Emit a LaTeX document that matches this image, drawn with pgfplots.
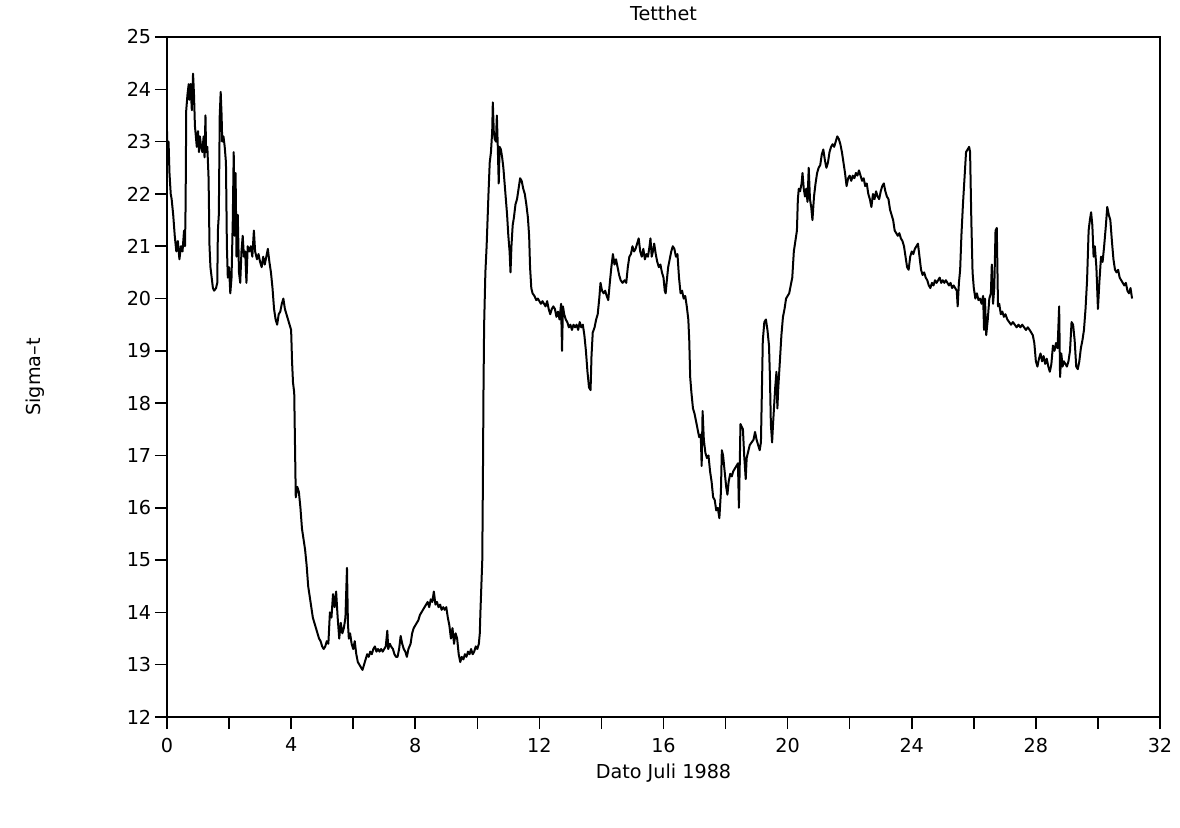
\documentclass[border=0pt]{standalone}
\usepackage{fontspec}
\setmainfont{DejaVu Sans}
\usepackage{pgfplots}
\pgfplotsset{compat=1.18}

\begin{document}
\fontsize{9.6}{11.5}\selectfont
\begin{tikzpicture}
\useasboundingbox (-83.5pt,-55pt) rectangle (506.5pt,358.5pt);
\begin{axis}[
    at={(0,0)}, anchor=south west,
    scale only axis,
    width=496.5pt, height=340pt,
    xmin=0, xmax=32,
    ymin=12, ymax=25,
    xtick={0,4,...,32},
    minor xtick={2,6,...,30},
    ytick={12,13,...,25},
    tick align=outside,
    tick pos=left,
    major tick length=6pt,
    minor tick length=6pt,
    every tick/.style={black, line width=0.8pt},
    axis line style={line width=1pt},
    /pgf/number format/assume math mode=true,
    ticklabel style={font=\fontsize{9.6}{11.5}\selectfont},
    xticklabel style={yshift=-1pt},
    yticklabel style={xshift=1.5pt},
    title={Tetthet},
    title style={at={(axis description cs:0.5,1.0174)}, anchor=center, font=\fontsize{9.6}{11.5}\selectfont},
    xlabel={Dato Juli 1988},
    xlabel style={at={(axis description cs:0.5,-0.0824)}, anchor=center, font=\fontsize{9.6}{11.5}\selectfont},
    ylabel={Sigma--t},
    ylabel style={at={(axis description cs:-0.133,0.5)}, anchor=center, font=\fontsize{9.6}{11.5}\selectfont},
]
\addplot[black, line width=1pt, line join=round] coordinates {
(0.00,23.2)(0.02,22.6)(0.05,23.0)(0.08,22.4)(0.12,22.0)(0.15,21.9)(0.20,21.6)(0.25,21.2)
(0.30,20.9)(0.35,21.1)(0.40,20.75)(0.45,21.0)(0.50,20.9)(0.55,21.3)(0.58,21.0)(0.60,21.8)
(0.62,23.6)(0.66,23.9)(0.70,24.1)(0.72,23.8)(0.76,24.1)(0.80,23.6)(0.84,24.3)(0.87,23.9)
(0.90,23.3)(0.93,23.1)(0.96,22.9)(1.00,23.2)(1.03,22.8)(1.06,23.1)(1.10,22.9)(1.14,22.8)
(1.18,23.1)(1.21,22.7)(1.24,23.5)(1.26,22.8)(1.30,22.9)(1.34,22.3)(1.37,21.0)(1.40,20.6)
(1.44,20.4)(1.48,20.2)(1.52,20.15)(1.58,20.2)(1.62,20.3)(1.64,21.3)(1.67,21.6)(1.70,23.5)
(1.73,23.95)(1.76,23.5)(1.78,23.0)(1.82,23.1)(1.86,22.9)(1.90,22.6)(1.93,21.0)(1.96,20.4)
(2.00,20.6)(2.04,20.1)(2.08,20.4)(2.12,21.5)(2.15,22.8)(2.18,21.2)(2.21,22.4)(2.24,20.8)
(2.28,21.6)(2.32,20.5)(2.36,20.3)(2.40,20.9)(2.44,21.2)(2.48,20.8)(2.52,20.9)(2.56,20.3)
(2.60,21.0)(2.65,20.9)(2.70,21.0)(2.75,20.8)(2.80,21.3)(2.84,20.9)(2.90,20.75)(2.95,20.85)
(3.00,20.7)(3.05,20.6)(3.10,20.8)(3.15,20.65)(3.20,20.8)(3.25,20.95)(3.30,20.7)(3.35,20.5)
(3.40,20.2)(3.45,19.8)(3.50,19.6)(3.55,19.5)(3.60,19.7)(3.65,19.75)(3.70,19.9)(3.75,20.0)
(3.80,19.8)(3.85,19.7)(3.90,19.6)(3.95,19.5)(4.00,19.4)(4.03,18.8)(4.06,18.4)(4.10,18.2)
(4.13,17.0)(4.15,16.2)(4.20,16.4)(4.25,16.3)(4.30,16.0)(4.35,15.6)(4.40,15.4)(4.45,15.2)
(4.50,14.9)(4.55,14.5)(4.60,14.3)(4.65,14.1)(4.70,13.9)(4.75,13.8)(4.80,13.7)(4.85,13.6)
(4.90,13.5)(4.95,13.45)(5.00,13.35)(5.05,13.3)(5.10,13.35)(5.15,13.45)(5.20,13.4)(5.25,14.0)
(5.30,13.9)(5.35,14.35)(5.40,14.1)(5.45,14.4)(5.50,13.9)(5.55,13.5)(5.60,13.8)(5.65,13.6)
(5.70,13.7)(5.75,13.9)(5.80,14.85)(5.83,13.8)(5.86,13.5)(5.90,13.6)(5.95,13.4)(6.00,13.3)
(6.05,13.45)(6.10,13.2)(6.15,13.05)(6.20,13.0)(6.25,12.95)(6.30,12.9)(6.35,13.0)(6.40,13.1)
(6.45,13.2)(6.50,13.15)(6.55,13.25)(6.60,13.2)(6.65,13.3)(6.70,13.35)(6.75,13.25)(6.80,13.3)
(6.85,13.25)(6.90,13.3)(6.95,13.25)(7.00,13.3)(7.05,13.35)(7.10,13.65)(7.13,13.3)(7.18,13.4)
(7.22,13.35)(7.28,13.3)(7.33,13.2)(7.38,13.15)(7.43,13.15)(7.48,13.3)(7.53,13.55)(7.58,13.4)
(7.63,13.3)(7.68,13.25)(7.73,13.15)(7.78,13.3)(7.85,13.4)(7.90,13.6)(7.95,13.7)(8.00,13.75)
(8.05,13.8)(8.10,13.85)(8.15,13.95)(8.20,14.0)(8.25,14.05)(8.30,14.1)(8.35,14.15)(8.40,14.2)
(8.45,14.1)(8.50,14.25)(8.55,14.2)(8.60,14.4)(8.65,14.15)(8.70,14.2)(8.75,14.1)(8.80,14.15)
(8.85,14.05)(8.90,14.1)(8.95,14.05)(9.00,14.1)(9.05,13.9)(9.10,13.75)(9.15,13.5)(9.20,13.7)
(9.25,13.4)(9.30,13.6)(9.35,13.5)(9.40,13.2)(9.45,13.05)(9.50,13.15)(9.55,13.1)(9.60,13.2)
(9.65,13.15)(9.70,13.25)(9.75,13.2)(9.80,13.3)(9.85,13.2)(9.90,13.25)(9.95,13.35)(10.00,13.3)
(10.05,13.4)(10.08,13.6)(10.10,14.0)(10.13,14.5)(10.16,15.0)(10.18,16.5)(10.20,18.3)(10.22,19.5)
(10.26,20.5)(10.30,21.0)(10.33,21.5)(10.36,22.0)(10.40,22.6)(10.44,22.8)(10.48,23.2)(10.50,23.75)
(10.53,23.2)(10.56,23.05)(10.60,23.0)(10.63,23.5)(10.66,22.9)(10.69,22.2)(10.72,22.9)(10.76,22.85)
(10.80,22.7)(10.84,22.5)(10.88,22.2)(10.92,21.9)(10.96,21.6)(11.00,21.2)(11.04,20.9)(11.07,20.5)
(11.10,21.0)(11.14,21.4)(11.18,21.55)(11.23,21.8)(11.28,21.9)(11.33,22.1)(11.38,22.3)(11.43,22.25)
(11.48,22.1)(11.53,22.0)(11.58,21.8)(11.63,21.55)(11.67,21.2)(11.70,20.6)(11.74,20.2)(11.78,20.1)
(11.84,20.05)(11.90,19.97)(11.95,20.0)(12.00,19.95)(12.05,19.9)(12.10,19.95)(12.15,19.9)(12.20,19.85)
(12.25,19.95)(12.30,19.8)(12.35,19.7)(12.40,19.8)(12.45,19.85)(12.50,19.8)(12.55,19.65)(12.60,19.75)
(12.65,19.6)(12.70,19.9)(12.73,19.0)(12.76,19.85)(12.80,19.7)(12.85,19.6)(12.90,19.55)(12.95,19.45)
(13.00,19.5)(13.05,19.4)(13.10,19.5)(13.15,19.45)(13.20,19.5)(13.25,19.4)(13.30,19.55)(13.35,19.45)
(13.40,19.5)(13.45,19.3)(13.50,19.0)(13.55,18.6)(13.60,18.3)(13.65,18.25)(13.68,18.9)(13.72,19.35)
(13.78,19.45)(13.83,19.6)(13.88,19.7)(13.93,20.0)(13.97,20.3)(14.02,20.15)(14.07,20.1)(14.12,20.15)
(14.17,20.05)(14.22,19.97)(14.27,20.3)(14.32,20.6)(14.37,20.85)(14.42,20.65)(14.47,20.75)(14.52,20.6)
(14.57,20.45)(14.62,20.35)(14.68,20.3)(14.75,20.35)(14.80,20.3)(14.85,20.6)(14.90,20.8)(14.95,20.85)
(15.00,21.0)(15.05,20.9)(15.10,20.95)(15.15,21.05)(15.20,21.15)(15.25,20.9)(15.30,20.8)(15.35,20.95)
(15.40,20.75)(15.45,20.85)(15.50,20.8)(15.55,21.0)(15.58,21.15)(15.62,20.8)(15.66,20.9)(15.70,21.05)
(15.75,20.85)(15.80,20.7)(15.85,20.6)(15.90,20.65)(15.95,20.5)(16.00,20.4)(16.04,20.15)(16.07,20.1)
(16.10,20.3)(16.15,20.6)(16.20,20.75)(16.25,20.9)(16.30,21.0)(16.35,20.95)(16.40,20.8)(16.45,20.85)
(16.50,20.4)(16.55,20.1)(16.60,20.15)(16.65,20.0)(16.70,20.05)(16.75,19.85)(16.80,19.6)(16.83,19.2)
(16.86,18.5)(16.90,18.2)(16.95,17.9)(17.00,17.8)(17.05,17.65)(17.10,17.5)(17.15,17.35)(17.20,17.4)
(17.23,16.8)(17.26,17.85)(17.30,17.3)(17.35,17.05)(17.40,16.95)(17.45,17.0)(17.50,16.7)(17.55,16.5)
(17.60,16.2)(17.65,16.15)(17.70,15.95)(17.75,16.0)(17.80,15.8)(17.85,16.3)(17.88,17.1)(17.92,17.0)
(17.97,16.7)(18.02,16.4)(18.06,16.25)(18.10,16.5)(18.15,16.65)(18.20,16.6)(18.25,16.7)(18.30,16.75)
(18.35,16.8)(18.40,16.85)(18.43,16.0)(18.46,16.9)(18.48,17.6)(18.52,17.55)(18.56,17.5)(18.60,17.0)
(18.65,16.55)(18.68,16.95)(18.72,17.05)(18.78,17.2)(18.84,17.25)(18.90,17.3)(18.95,17.45)(19.00,17.3)
(19.05,17.2)(19.10,17.1)(19.14,17.25)(19.17,18.2)(19.20,19.2)(19.25,19.55)(19.30,19.6)(19.35,19.4)
(19.40,19.1)(19.43,18.5)(19.46,17.6)(19.50,17.25)(19.53,17.6)(19.57,18.0)(19.60,18.3)(19.64,18.6)
(19.67,17.9)(19.70,18.3)(19.75,18.8)(19.80,19.3)(19.85,19.65)(19.90,19.8)(19.95,20.0)(20.00,20.05)
(20.05,20.1)(20.10,20.25)(20.15,20.4)(20.20,20.9)(20.25,21.1)(20.30,21.3)(20.33,21.9)(20.36,22.1)
(20.40,22.05)(20.45,22.2)(20.48,22.4)(20.52,22.1)(20.56,21.95)(20.60,22.1)(20.64,21.85)(20.68,22.5)
(20.72,21.9)(20.76,21.75)(20.80,21.5)(20.85,21.95)(20.90,22.2)(20.95,22.4)(21.00,22.5)(21.05,22.55)
(21.10,22.75)(21.15,22.85)(21.20,22.65)(21.25,22.5)(21.30,22.6)(21.35,22.8)(21.40,22.9)(21.45,22.95)
(21.50,22.9)(21.55,23.0)(21.60,23.1)(21.65,23.05)(21.70,22.95)(21.75,22.8)(21.80,22.6)(21.85,22.4)
(21.90,22.15)(21.95,22.3)(22.00,22.35)(22.05,22.25)(22.10,22.35)(22.15,22.3)(22.20,22.4)(22.25,22.35)
(22.30,22.45)(22.35,22.35)(22.40,22.25)(22.45,22.3)(22.50,22.15)(22.55,22.2)(22.60,22.0)(22.65,21.9)
(22.70,21.75)(22.75,22.0)(22.80,21.9)(22.85,22.05)(22.90,21.95)(22.95,21.9)(23.00,22.05)(23.05,22.15)
(23.10,22.2)(23.15,22.05)(23.20,21.95)(23.25,21.9)(23.30,21.7)(23.35,21.6)(23.40,21.5)(23.45,21.3)
(23.50,21.25)(23.55,21.2)(23.60,21.25)(23.65,21.15)(23.70,21.1)(23.75,21.0)(23.80,20.8)(23.85,20.6)
(23.90,20.55)(23.95,20.8)(24.00,20.9)(24.05,20.85)(24.10,20.95)(24.15,21.0)(24.20,21.05)(24.25,20.8)
(24.30,20.55)(24.35,20.45)(24.40,20.5)(24.45,20.4)(24.50,20.35)(24.55,20.25)(24.60,20.2)(24.65,20.3)
(24.70,20.25)(24.75,20.35)(24.80,20.3)(24.85,20.35)(24.90,20.4)(24.95,20.3)(25.00,20.35)(25.05,20.3)
(25.10,20.35)(25.15,20.3)(25.20,20.25)(25.25,20.3)(25.30,20.2)(25.35,20.25)(25.40,20.2)(25.45,20.15)
(25.48,19.85)(25.52,20.3)(25.56,20.55)(25.60,21.2)(25.65,21.8)(25.70,22.3)(25.75,22.8)(25.80,22.85)
(25.85,22.9)(25.88,22.8)(25.92,21.5)(25.96,20.5)(26.00,20.2)(26.05,20.0)(26.10,20.1)(26.15,19.97)
(26.20,20.0)(26.25,19.9)(26.30,20.05)(26.33,19.4)(26.36,20.0)(26.40,19.3)(26.45,19.6)(26.50,20.0)
(26.55,20.1)(26.58,20.65)(26.62,19.9)(26.66,20.2)(26.70,21.3)(26.74,21.35)(26.78,19.85)(26.82,19.9)
(26.87,19.7)(26.92,19.75)(26.97,19.65)(27.02,19.7)(27.08,19.6)(27.14,19.55)(27.20,19.5)(27.26,19.55)
(27.32,19.5)(27.38,19.45)(27.44,19.5)(27.50,19.45)(27.56,19.5)(27.62,19.45)(27.68,19.4)(27.74,19.45)
(27.80,19.4)(27.85,19.35)(27.90,19.3)(27.95,19.15)(28.00,18.8)(28.05,18.7)(28.10,18.85)(28.15,18.95)
(28.20,18.8)(28.25,18.9)(28.30,18.75)(28.35,18.85)(28.40,18.7)(28.45,18.6)(28.50,18.75)(28.55,19.1)
(28.60,19.0)(28.65,19.15)(28.70,19.05)(28.75,19.85)(28.78,18.5)(28.82,18.95)(28.86,18.7)(28.90,18.8)
(28.95,18.75)(29.00,18.7)(29.05,18.8)(29.10,19.0)(29.15,19.55)(29.20,19.5)(29.25,19.2)(29.30,18.7)
(29.35,18.65)(29.40,18.8)(29.45,19.05)(29.50,19.2)(29.55,19.4)(29.60,19.8)(29.65,20.35)(29.70,21.3)
(29.74,21.5)(29.78,21.65)(29.82,21.4)(29.86,20.8)(29.90,21.0)(29.95,20.6)(30.00,19.8)(30.05,20.35)
(30.10,20.8)(30.15,20.7)(30.20,21.0)(30.25,21.35)(30.30,21.75)(30.35,21.6)(30.40,21.5)(30.45,21.1)
(30.50,20.75)(30.55,20.55)(30.60,20.5)(30.65,20.55)(30.70,20.4)(30.75,20.35)(30.80,20.3)(30.85,20.25)
(30.90,20.3)(30.95,20.15)(31.00,20.1)(31.05,20.2)(31.10,20.0)
};
\end{axis}
\end{tikzpicture}
\end{document}
